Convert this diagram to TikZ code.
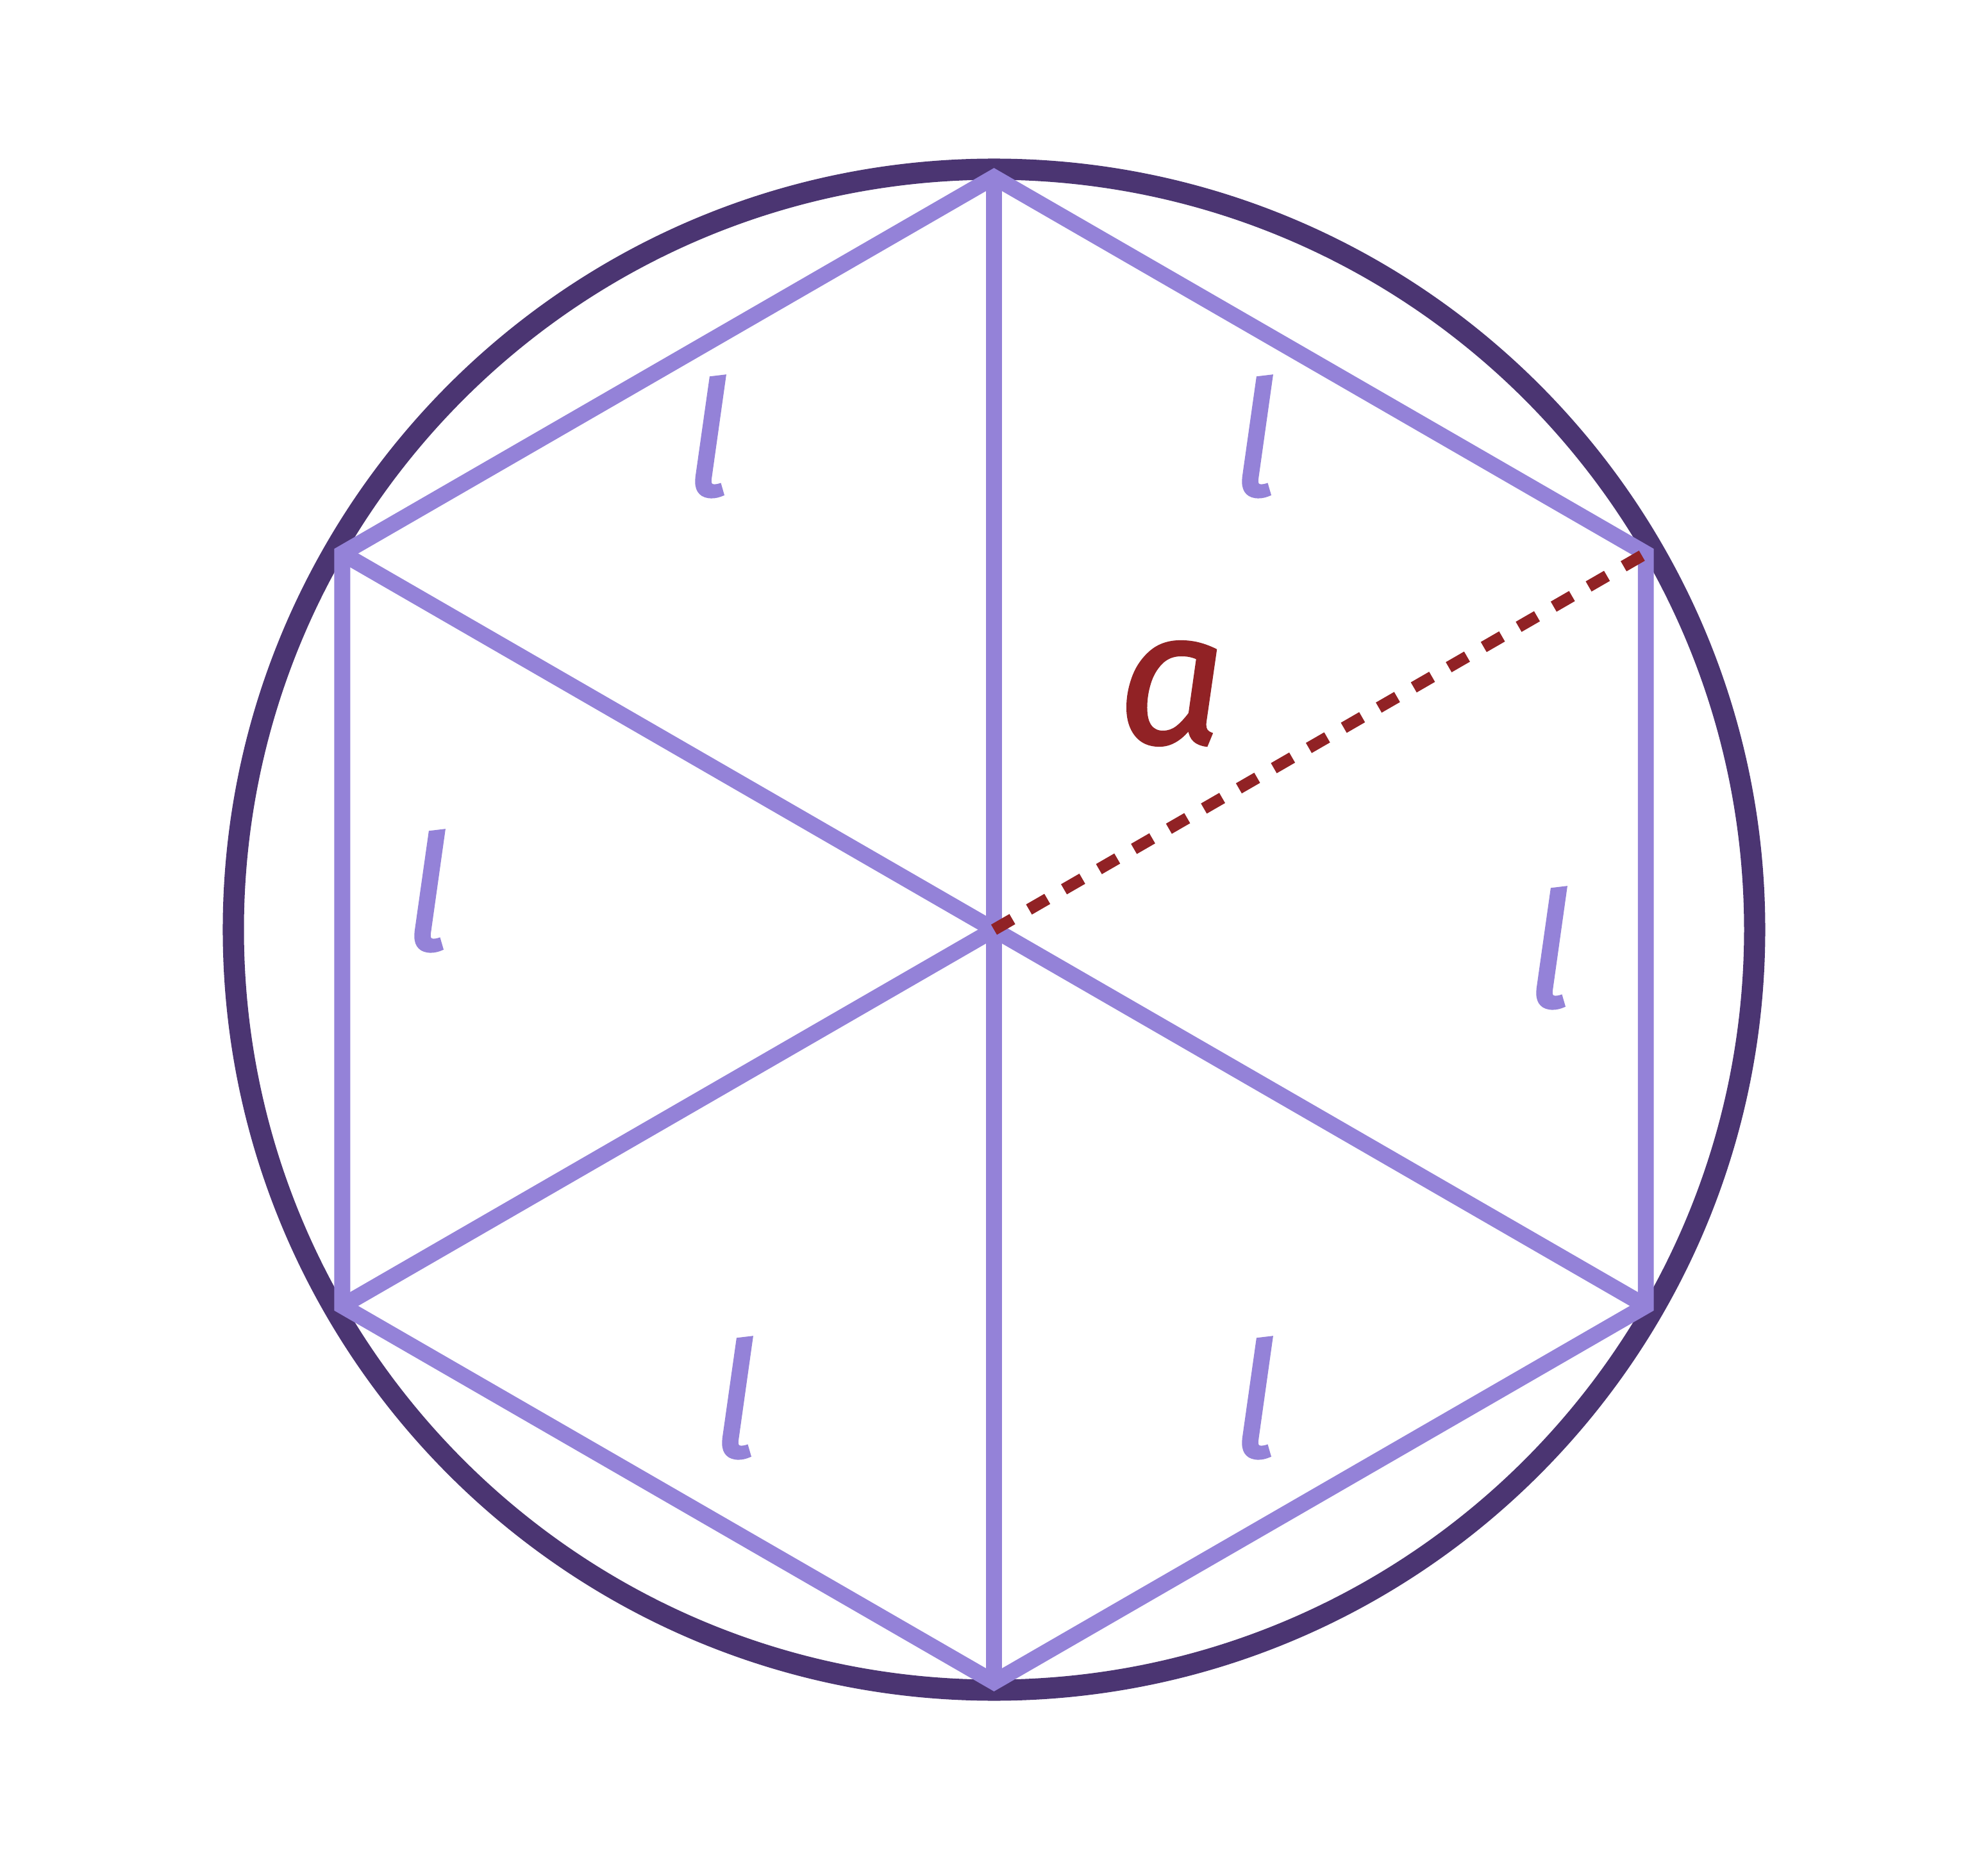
\documentclass[tikz,border=0pt]{standalone}
\usepackage{fontspec}
\setmainfont{Fira Sans}[ItalicFeatures={FakeBold=1.2}]
\usepackage{tikz}
\usetikzlibrary{calc}
\definecolor{rim}{RGB}{75,53,114}
\definecolor{hexa}{RGB}{148,130,216}
\definecolor{apo}{RGB}{145,34,37}

\begin{document}
\begin{tikzpicture}[
  ring/.style={draw=rim,line width=9.4pt},
  edge/.style={draw=hexa,line width=7.1pt,line join=miter},
  apoline/.style={draw=apo,line width=5.2pt,dash pattern=on 0.33cm off 0.30cm},
  side/.style={text=hexa,inner sep=0pt,font=\fontsize{71}{80}\selectfont\itshape},
  alab/.style={text=apo,inner sep=0pt,font=\fontsize{84}{90}\selectfont\itshape}]
\useasboundingbox (-15.505,-14.505) rectangle (15.505,14.505);
\coordinate (o) at (0,0);
\foreach \k in {0,...,5}
  \coordinate (v\k) at (30+60*\k:11.74);
\draw[ring] (o) circle (11.865);
\draw[edge] (v0)--(v1)--(v2)--(v3)--(v4)--(v5)--cycle;
\draw[edge] (v1)--(v4);
\draw[edge] (v2)--(v5);
\draw[edge] (v3)--(o);
\draw[apoline] (o)--(v0);
\node[side] (l1) at (-4.455,7.695) {l};
\node[side] (l2) at (4.075,7.695) {l};
\node[side] (l3) at (-8.835,0.605) {l};
\node[side] (l4) at (8.665,-0.285) {l};
\node[side] (l5) at (-4.035,-7.305) {l};
\node[side] (l6) at (4.075,-7.305) {l};
\node[alab] (a) at (2.775,3.685) {a};
\end{tikzpicture}
\end{document}
